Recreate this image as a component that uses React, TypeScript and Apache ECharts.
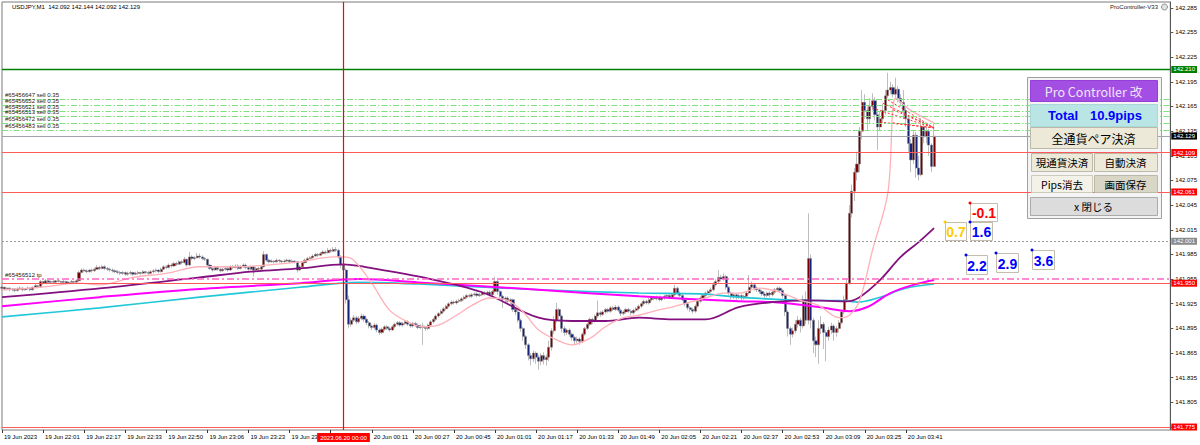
import React, { useEffect, useRef } from "react";
import * as echarts from "echarts";

// Prices are stored in thousandths of a yen above BASE (e.g. 945 -> 141.945, 1129 -> 142.129)
const BASE = 141;

const OPEN = [
  944, 945, 943, 944, 942, 943, 941, 943, 944, 942,
  943, 944, 942, 945, 947, 946, 952, 950, 953, 951,
  952, 951, 953, 952, 951, 952, 950, 951, 952, 951,
  953, 963, 966, 965, 964, 966, 965, 967, 969, 968,
  970, 968, 967, 966, 965, 964, 963, 962, 963, 961,
  962, 963, 961, 962, 963, 962, 964, 963, 962, 964,
  965, 966, 964, 967, 970, 969, 972, 971, 974, 973,
  976, 975, 979, 972, 982, 980, 981, 983, 982, 980,
  979, 972, 968, 966, 969, 967, 965, 967, 968, 966,
  970, 969, 971, 968, 970, 972, 969, 967, 970, 966,
  968, 967, 970, 985, 978, 976, 977, 976, 978, 977,
  976, 977, 978, 976, 977, 976, 966, 970, 975, 978,
  980, 981, 983, 985, 984, 986, 988, 987, 990, 989,
  991, 990, 982, 972, 966, 930, 900, 905, 908, 903,
  907, 910, 906, 902, 898, 896, 899, 893, 890, 894,
  897, 895, 893, 897, 900, 902, 899, 901, 903, 900,
  898, 901, 899, 896, 898, 896, 895, 899, 903, 906,
  910, 913, 916, 919, 922, 925, 927, 926, 928, 929,
  931, 933, 935, 934, 936, 937, 935, 936, 938, 937,
  939, 936, 940, 952, 940, 934, 930, 932, 928, 930,
  918, 915, 905, 895, 885, 875, 862, 858, 865, 860,
  855, 862, 857, 860, 872, 892, 905, 918, 910, 895,
  890, 893, 888, 884, 880, 882, 879, 888, 895, 900,
  906, 904, 910, 914, 912, 915, 918, 916, 920, 918,
  921, 917, 913, 915, 918, 916, 914, 917, 919, 922,
  925, 928, 926, 930, 932, 931, 933, 930, 932, 934,
  935, 933, 936, 944, 938, 935, 930, 925, 920, 918,
  916, 922, 928, 932, 935, 938, 940, 942, 948, 952,
  957, 955, 958, 945, 938, 934, 936, 933, 935, 932,
  934, 938, 945, 948, 944, 942, 940, 937, 935, 938,
  936, 939, 942, 944, 941, 935, 915, 895, 888, 892,
  900, 905, 898, 930, 905, 980, 905, 880, 875, 895,
  900, 890, 885, 893, 898, 890, 895, 902, 915, 930,
  950, 1035, 1062, 1085, 1095, 1135, 1170, 1160, 1150, 1165,
  1172, 1155, 1140, 1150, 1160, 1178, 1185, 1188, 1180, 1186,
  1175, 1170, 1160, 1150, 1120, 1100, 1130, 1090, 1082, 1140,
  1128, 1135, 1118, 1092,
];

const HIGH = [
  947, 946, 945, 945, 944, 944, 945, 946, 945, 944,
  946, 945, 946, 949, 948, 954, 953, 955, 954, 953,
  954, 954, 955, 953, 954, 953, 952, 954, 953, 955,
  965, 968, 968, 967, 967, 968, 969, 972, 971, 972,
  972, 970, 969, 968, 967, 966, 965, 965, 964, 964,
  965, 964, 964, 965, 964, 966, 965, 965, 966, 967,
  968, 967, 969, 972, 972, 974, 974, 976, 976, 978,
  978, 982, 980, 988, 984, 983, 987, 986, 984, 982,
  980, 973, 970, 971, 971, 969, 969, 970, 970, 972,
  972, 973, 973, 972, 974, 974, 971, 972, 971, 970,
  970, 972, 989, 986, 980, 979, 978, 980, 979, 978,
  979, 980, 979, 979, 978, 977, 972, 977, 980, 982,
  983, 985, 987, 987, 988, 990, 990, 993, 992, 994,
  994, 992, 984, 976, 968, 935, 908, 911, 910, 910,
  913, 912, 908, 904, 900, 902, 901, 895, 896, 899,
  899, 897, 899, 902, 904, 904, 903, 905, 905, 902,
  903, 903, 901, 900, 902, 898, 901, 905, 908, 912,
  915, 918, 921, 924, 927, 929, 929, 930, 931, 933,
  935, 937, 937, 938, 939, 939, 938, 940, 940, 941,
  941, 942, 958, 954, 942, 936, 934, 934, 932, 931,
  920, 917, 907, 897, 887, 877, 865, 868, 867, 863,
  865, 866, 863, 880, 895, 910, 926, 920, 912, 898,
  895, 895, 890, 886, 885, 884, 890, 897, 902, 908,
  908, 912, 929, 916, 917, 920, 920, 922, 922, 923,
  923, 919, 917, 920, 920, 918, 919, 921, 924, 927,
  930, 930, 932, 934, 934, 935, 935, 934, 936, 937,
  937, 938, 948, 946, 940, 937, 932, 927, 922, 920,
  924, 930, 934, 937, 940, 942, 945, 951, 955, 966,
  960, 962, 960, 947, 940, 938, 938, 937, 937, 936,
  940, 960, 952, 950, 946, 944, 942, 939, 940, 940,
  941, 944, 946, 946, 943, 938, 917, 897, 896, 905,
  910, 908, 935, 940, 1035, 985, 908, 885, 905, 910,
  903, 893, 897, 902, 900, 898, 905, 918, 935, 955,
  1045, 1070, 1090, 1110, 1140, 1185, 1180, 1165, 1175, 1181,
  1176, 1160, 1158, 1168, 1185, 1206, 1195, 1192, 1200, 1190,
  1180, 1185, 1165, 1155, 1125, 1135, 1134, 1105, 1151, 1145,
  1140, 1138, 1120, 1144,
];

const LOW = [
  942, 941, 941, 940, 940, 939, 940, 942, 940, 941,
  942, 940, 941, 944, 944, 945, 948, 949, 949, 950,
  949, 950, 951, 949, 950, 948, 949, 950, 949, 950,
  952, 962, 963, 962, 963, 963, 964, 966, 966, 967,
  966, 965, 964, 963, 962, 961, 960, 960, 959, 959,
  960, 959, 960, 960, 960, 961, 961, 960, 961, 962,
  963, 962, 963, 966, 967, 968, 969, 970, 971, 972,
  973, 974, 970, 971, 978, 978, 980, 980, 978, 977,
  969, 966, 964, 965, 965, 963, 964, 965, 964, 965,
  967, 968, 966, 967, 969, 967, 965, 966, 958, 964,
  965, 966, 969, 976, 974, 975, 974, 975, 975, 974,
  975, 976, 974, 975, 974, 963, 965, 969, 974, 977,
  979, 980, 982, 982, 983, 985, 985, 986, 987, 988,
  988, 980, 968, 964, 925, 895, 897, 903, 900, 901,
  905, 903, 899, 895, 893, 894, 890, 887, 888, 892,
  893, 891, 892, 895, 898, 897, 897, 899, 898, 896,
  896, 897, 894, 894, 875, 892, 893, 897, 901, 904,
  908, 911, 914, 917, 920, 923, 924, 924, 926, 927,
  929, 931, 932, 932, 934, 933, 933, 934, 935, 935,
  934, 934, 938, 936, 931, 920, 927, 925, 925, 915,
  911, 902, 891, 880, 870, 856, 850, 854, 852, 845,
  850, 851, 850, 855, 868, 888, 902, 906, 890, 886,
  887, 885, 880, 876, 877, 875, 877, 886, 893, 898,
  900, 902, 908, 909, 910, 913, 914, 914, 916, 916,
  915, 910, 911, 913, 914, 911, 912, 915, 917, 920,
  923, 924, 924, 928, 929, 929, 928, 928, 930, 932,
  931, 931, 934, 936, 933, 928, 922, 917, 915, 913,
  914, 920, 926, 930, 933, 936, 938, 940, 946, 950,
  952, 953, 942, 935, 930, 931, 930, 931, 929, 930,
  932, 936, 943, 941, 939, 937, 934, 932, 933, 933,
  934, 937, 940, 938, 932, 910, 885, 875, 884, 889,
  896, 890, 895, 900, 900, 895, 865, 860, 852, 888,
  870, 855, 880, 888, 880, 885, 890, 900, 912, 928,
  948, 1030, 1050, 1075, 1085, 1125, 1150, 1135, 1145, 1160,
  1148, 1112, 1135, 1145, 1155, 1175, 1180, 1176, 1175, 1170,
  1165, 1150, 1140, 1110, 1085, 1095, 1078, 1075, 1080, 1120,
  1120, 1105, 1085, 1092,
];

const CLOSE = [
  945, 943, 944, 942, 943, 941, 943, 944, 942, 943,
  944, 942, 945, 947, 946, 952, 950, 953, 951, 952,
  951, 953, 952, 951, 952, 950, 951, 952, 951, 953,
  963, 966, 965, 964, 966, 965, 967, 969, 968, 970,
  968, 967, 966, 965, 964, 963, 962, 963, 961, 962,
  963, 961, 962, 963, 962, 964, 963, 962, 964, 965,
  966, 964, 967, 970, 969, 972, 971, 974, 973, 976,
  975, 979, 972, 982, 980, 981, 983, 982, 980, 979,
  972, 968, 966, 969, 967, 965, 967, 968, 966, 970,
  969, 971, 968, 970, 972, 969, 967, 970, 966, 968,
  967, 970, 985, 978, 976, 977, 976, 978, 977, 976,
  977, 978, 976, 977, 976, 966, 970, 975, 978, 980,
  981, 983, 985, 984, 986, 988, 987, 990, 989, 991,
  990, 982, 972, 966, 930, 900, 905, 908, 903, 907,
  910, 906, 902, 898, 896, 899, 893, 890, 894, 897,
  895, 893, 897, 900, 902, 899, 901, 903, 900, 898,
  901, 899, 896, 898, 896, 895, 899, 903, 906, 910,
  913, 916, 919, 922, 925, 927, 926, 928, 929, 931,
  933, 935, 934, 936, 937, 935, 936, 938, 937, 939,
  936, 940, 952, 940, 934, 930, 932, 928, 930, 918,
  915, 905, 895, 885, 875, 862, 858, 865, 860, 855,
  862, 857, 860, 872, 892, 905, 918, 910, 895, 890,
  893, 888, 884, 880, 882, 879, 888, 895, 900, 906,
  904, 910, 914, 912, 915, 918, 916, 920, 918, 921,
  917, 913, 915, 918, 916, 914, 917, 919, 922, 925,
  928, 926, 930, 932, 931, 933, 930, 932, 934, 935,
  933, 936, 944, 938, 935, 930, 925, 920, 918, 916,
  922, 928, 932, 935, 938, 940, 942, 948, 952, 957,
  955, 958, 945, 938, 934, 936, 933, 935, 932, 934,
  938, 945, 948, 944, 942, 940, 937, 935, 938, 936,
  939, 942, 944, 941, 935, 915, 895, 888, 892, 900,
  905, 898, 930, 905, 980, 905, 880, 875, 895, 900,
  890, 885, 893, 898, 890, 895, 902, 915, 930, 950,
  1035, 1062, 1085, 1095, 1135, 1170, 1160, 1150, 1165, 1172,
  1155, 1140, 1150, 1160, 1178, 1185, 1188, 1180, 1186, 1175,
  1170, 1160, 1150, 1120, 1100, 1130, 1090, 1082, 1140, 1128,
  1135, 1118, 1092, 1129,
];

// Moving averages as [bar index, thousandths above BASE]
const MA_PINK = [
  [0, 942], [15, 945], [30, 950], [38, 948], [51, 957], [64, 962], [77, 970], [90, 970],
  [103, 972], [116, 976], [129, 982], [133, 982], [137, 978], [144, 950], [151, 917],
  [158, 903], [164, 897], [170, 899], [177, 911], [183, 923], [190, 932], [197, 929],
  [203, 915], [209, 893], [216, 881], [222, 875], [229, 883], [235, 897], [242, 908],
  [248, 911], [255, 917], [261, 921], [268, 927], [274, 932], [281, 938], [287, 938],
  [295, 944], [303, 939], [311, 929], [318, 923], [326, 908], [330, 911], [334, 929],
  [339, 990], [345, 1060], [348, 1175], [352, 1165], [354, 1160], [363, 1145],
];
const MA_PURPLE = [
  [0, 933], [39, 944], [77, 957], [97, 964], [116, 968], [133, 973], [139, 971],
  [164, 957], [187, 939], [209, 908], [222, 904], [235, 904], [248, 908], [261, 906],
  [274, 906], [287, 921], [300, 927], [314, 929], [329, 928], [334, 933], [342, 954],
  [350, 982], [357, 1000], [363, 1017],
];
const MA_MAGENTA = [
  [0, 922], [38, 933], [77, 943], [116, 950], [139, 955], [162, 951], [209, 942],
  [248, 934], [287, 928], [300, 927], [313, 923], [320, 920], [330, 916], [337, 921],
  [346, 938], [355, 948], [363, 954],
];
const MA_CYAN = [
  [0, 909], [38, 920], [77, 933], [116, 945], [139, 951], [162, 949], [209, 942],
  [248, 938], [272, 937], [287, 933], [314, 929], [326, 929], [333, 927], [342, 933],
  [352, 944], [363, 949],
];

// open-order trail lines (start bar, start price) to the last bar
const FAN_START_BAR = [339, 343, 345, 347, 342, 347];
const FAN_START_PRICE = [1163, 1169, 1173, 1161, 1146, 1145];
const FAN_END_BAR = 363;
const FAN_END_PRICE = 1139;

const TIME_LABELS = [
  "19 Jun 2023", "19 Jun 22:01", "19 Jun 22:17", "19 Jun 22:33", "19 Jun 22:50",
  "19 Jun 23:06", "19 Jun 23:23", "19 Jun 23:39", "19 Jun 23:55", "20 Jun 00:11",
  "20 Jun 00:27", "20 Jun 00:45", "20 Jun 01:01", "20 Jun 01:17", "20 Jun 01:33",
  "20 Jun 01:49", "20 Jun 02:05", "20 Jun 02:21", "20 Jun 02:37", "20 Jun 02:53",
  "20 Jun 03:09", "20 Jun 03:25", "20 Jun 03:41",
];
const Y_TICKS = [
  141.775, 141.805, 141.835, 141.865, 141.895, 141.925, 141.955, 141.985, 142.015,
  142.045, 142.075, 142.105, 142.135, 142.165, 142.195, 142.225, 142.255, 142.285,
];

const HEADER = "USDJPY,M1  142.092 142.144 142.092 142.129";
const EA_NAME = "ProController-V33";
const TP_GREEN = 142.21;
const ORDER_LEVELS = [142.174, 142.167, 142.159, 142.153, 142.145, 142.136];
const ORDER_NAMES = [
  "#65456647 sell 0.35", "#65456652 sell 0.35", "#65456621 sell 0.35",
  "#65456513 sell 0.35", "#65456472 sell 0.35", "#65456483 sell 0.35",
];
const BID = 142.129;
const RED_LEVELS = [142.109, 142.061, 141.95, 141.775];
const GRAY_LEVEL = 142.001;
const TP_PINK = 141.955;
const TP_PINK_NAME = "#65456512 tp";
const VLINE_BAR = 133;
const VLINE_LABEL = "2023.06.20 00:00";

const PROFIT_TEXT = ["-0.1", "0.7", "1.6", "2.2", "2.9", "3.6"];
const PROFIT_COLOR = ["#ff0000", "#ffcc00", "#0000ff", "#0000ff", "#0000ff", "#0000ff"];

const PANEL_TITLE = "Pro Controller 改";
const PANEL_TOTAL = ["Total", "10.9pips"];
const PANEL_BUTTONS = ["全通貨ペア決済", "現通貨決済", "自動決済", "Pips消去", "画面保存", "x 閉じる"];

const CATEGORY_COUNT = 456;
const Y_MIN = 141.7714;
const Y_MAX = 142.2921;
const FONT = '"Liberation Sans", Arial, sans-serif';
const JP = '"Noto Sans CJK JP", sans-serif';

const toP = (v: number) => Math.round((BASE + v / 1000) * 1000) / 1000;

function txt(x: number, y: number, text: string, font: string, fill: string, align = "center", z = 100) {
  return {
    type: "text",
    x,
    y,
    z,
    silent: true,
    style: {
      text,
      font,
      fill,
      align,
      textAlign: align,
      verticalAlign: "middle",
      textVerticalAlign: "middle",
    },
  };
}

function box(x: number, y: number, w: number, h: number, fill: string, stroke: string, z = 100) {
  return {
    type: "rect",
    z,
    silent: true,
    shape: { x: x + 0.5, y: y + 0.5, width: w, height: h },
    style: { fill, stroke, lineWidth: 1 },
  };
}

function buildOption() {
  const categories = Array.from({ length: CATEGORY_COUNT }, (_, i) => String(i));
  const candles = OPEN.map((o, i) => [toP(o), toP(CLOSE[i]), toP(LOW[i]), toP(HIGH[i])]);

  const axisBox = (v: number, bg: string) => ({
    show: true,
    position: "end",
    distance: 1,
    formatter: v.toFixed(3),
    backgroundColor: bg,
    color: "#fff",
    fontSize: 6,
    lineHeight: 6,
    fontFamily: FONT,
    padding: [1, 2, 0, 2],
  });
  const leftLabel = (t: string) => ({
    show: true,
    position: "insideStartTop",
    distance: [3, 1],
    formatter: t,
    color: "#222",
    fontSize: 6,
    fontFamily: FONT,
  });

  const markData: any[] = [];
  markData.push({
    yAxis: TP_GREEN,
    lineStyle: { color: "#008000", width: 1.3, type: "solid" },
    label: axisBox(TP_GREEN, "#008000"),
  });
  ORDER_LEVELS.forEach((v, i) =>
    markData.push({
      yAxis: v,
      lineStyle: { color: "#7fe07f", width: 1.2, type: [6, 2, 1.5, 2] },
      label: leftLabel(ORDER_NAMES[i]),
    })
  );
  markData.push({
    yAxis: BID,
    lineStyle: { color: "#a0a4aa", width: 1, type: "solid" },
    label: axisBox(BID, "#000000"),
  });
  markData.push({
    yAxis: GRAY_LEVEL,
    lineStyle: { color: "#9a9a9a", width: 1, type: [2, 2] },
    label: axisBox(GRAY_LEVEL, "#8a8a8a"),
  });
  markData.push({
    yAxis: TP_PINK,
    lineStyle: { color: "#ff66c4", width: 1.6, type: [7, 3, 2, 3] },
    label: leftLabel(TP_PINK_NAME),
  });
  RED_LEVELS.forEach((v) =>
    markData.push({
      yAxis: v,
      lineStyle: { color: "#ff5a5a", width: 1.2, type: "solid" },
      label: axisBox(v, "#ff0000"),
    })
  );
  markData.push({
    xAxis: VLINE_BAR,
    lineStyle: { color: "rgba(255,0,0,0)", width: 1, type: "solid" },
    label: {
      show: true,
      position: "start",
      distance: 3,
      formatter: VLINE_LABEL,
      backgroundColor: "#ff0000",
      color: "#ffffff",
      fontSize: 6,
      lineHeight: 6,
      fontFamily: FONT,
      padding: [2, 3, 1, 3],
    },
  });

  const maSeries = (data: number[][], color: string, width: number) => ({
    type: "line",
    data: data.map(([i, v]) => [i, toP(v)]),
    showSymbol: false,
    symbol: "none",
    smooth: 0.35,
    silent: true,
    lineStyle: { color, width },
    itemStyle: { color },
    z: 3,
  });

  const fanSeries = FAN_START_BAR.map((b, k) => ({
    type: "line",
    data: [
      [b, toP(FAN_START_PRICE[k])],
      [FAN_END_BAR, toP(FAN_END_PRICE)],
    ],
    showSymbol: false,
    symbol: "none",
    silent: true,
    lineStyle: { color: "#ff3030", width: 1, type: [2, 2] },
    itemStyle: { color: "#ff3030" },
    z: 4,
  }));

  const vlineSeries = {
    type: "line",
    data: [
      [VLINE_BAR, Y_MIN],
      [VLINE_BAR, Y_MAX],
    ],
    showSymbol: false,
    symbol: "none",
    silent: true,
    lineStyle: { color: "#ff0000", width: 1.2 },
    itemStyle: { color: "#ff0000" },
    z: 5,
  };

  const showIdx = (idx: number) => idx % 16 === 0 && idx <= 352;

  // graphic overlay: header, panel, profit boxes
  const graphics: any[] = [];
  graphics.push(txt(12, 6.5, HEADER, `6px ${FONT}`, "#000", "left"));
  graphics.push(txt(1158, 7, EA_NAME, `6px ${FONT}`, "#222", "right"));
  graphics.push({
    type: "circle",
    z: 100,
    silent: true,
    shape: { cx: 1164.5, cy: 7, r: 3 },
    style: { fill: "#e4e4e4", stroke: "#777", lineWidth: 0.8 },
  });

  // panel
  graphics.push(box(1027, 77, 134, 141, "#f4f4f4", "#a0a0a0", 1));
  graphics.push(box(1030, 80, 127, 21, "#a44fe4", "#9440d8"));
  graphics.push(txt(1093.5, 91, PANEL_TITLE, `12.5px ${JP}`, "#efe6fb"));
  graphics.push(box(1030, 104, 127, 22, "#b9e5e4", "#a8d8d8"));
  graphics.push(txt(1048, 115.5, PANEL_TOTAL[0], `bold 13px ${FONT}`, "#0000ff", "left"));
  graphics.push(txt(1090, 115.5, PANEL_TOTAL[1], `bold 13px ${FONT}`, "#0000ff", "left"));
  graphics.push(box(1030, 127, 127, 21, "#ece9d8", "#bdb9a8"));
  graphics.push(txt(1093.5, 138, PANEL_BUTTONS[0], `12px ${JP}`, "#000"));
  graphics.push(box(1031, 153, 61, 18, "#ece9d8", "#bdb9a8"));
  graphics.push(txt(1062, 162, PANEL_BUTTONS[1], `10.5px ${JP}`, "#000"));
  graphics.push(box(1094, 153, 63, 18, "#ece9d8", "#bdb9a8"));
  graphics.push(txt(1125.5, 162, PANEL_BUTTONS[2], `10.5px ${JP}`, "#000"));
  graphics.push(box(1031, 175, 61, 17, "#f3f1e8", "#cfcbbb"));
  graphics.push(txt(1062, 184, PANEL_BUTTONS[3], `10.5px ${JP}`, "#000"));
  graphics.push(box(1094, 175, 63, 17, "#d9d6c5", "#bdb9a8"));
  graphics.push(txt(1125.5, 184, PANEL_BUTTONS[4], `10.5px ${JP}`, "#000"));
  graphics.push(box(1030, 197, 127, 18, "#dcdcdc", "#ababab"));
  graphics.push(txt(1093.5, 206, PANEL_BUTTONS[5], `10.5px ${JP}`, "#000"));

  // profit boxes
  const PROFIT_POS = [
    [970, 203, 27, 18],
    [945, 222, 21, 18],
    [970, 222, 22, 18],
    [966, 255, 21, 19],
    [996, 253, 22, 19],
    [1032, 250, 22, 19],
  ];
  PROFIT_TEXT.forEach((t, k) => {
    const [x, y, w, h] = PROFIT_POS[k];
    graphics.push(box(x, y, w, h, "#ffffff", "#c4bcac"));
    graphics.push(txt(x + w / 2 + 0.5, y + h / 2 + 1, t, `bold 14px ${FONT}`, PROFIT_COLOR[k]));
    graphics.push({
      type: "circle",
      z: 101,
      silent: true,
      shape: { cx: x, cy: y, r: 1.5 },
      style: { fill: PROFIT_COLOR[k] },
    });
  });

  return {
    animation: false,
    backgroundColor: "#ffffff",
    textStyle: { fontFamily: FONT },
    grid: {
      left: 2,
      right: 29,
      top: 2,
      bottom: 15,
      show: true,
      borderColor: "#7a7a7a",
      borderWidth: 1,
      backgroundColor: "#ffffff",
    },
    xAxis: {
      type: "category",
      data: categories,
      boundaryGap: false,
      axisLine: { show: false },
      axisTick: {
        show: true,
        interval: (idx: number) => showIdx(idx),
        length: 3,
        lineStyle: { color: "#333" },
      },
      axisLabel: {
        show: true,
        interval: (idx: number) => showIdx(idx),
        formatter: (_v: string, idx: number) => TIME_LABELS[Math.round(idx / 16)] ?? "",
        fontSize: 6,
        color: "#000",
        fontFamily: FONT,
        align: "left",
        margin: 4,
        padding: [0, 0, 0, 2],
      },
      splitLine: { show: false },
    },
    yAxis: {
      type: "value",
      position: "right",
      min: Y_MIN,
      max: Y_MAX,
      scale: true,
      splitLine: { show: false },
      axisLine: { show: true, lineStyle: { color: "#555" } },
      axisTick: { show: true, length: 3, customValues: Y_TICKS, lineStyle: { color: "#555" } },
      axisLabel: {
        customValues: Y_TICKS,
        formatter: (v: number) => v.toFixed(3),
        fontSize: 6,
        color: "#000",
        fontFamily: FONT,
        margin: 5,
      },
    },
    series: [
      {
        type: "candlestick",
        data: candles,
        barWidth: 2.6,
        silent: true,
        z: 2,
        itemStyle: {
          color: "#7a0000",
          color0: "#14237a",
          borderColor: "#7d7d7d",
          borderColor0: "#7d7d7d",
          borderColorDoji: "#22dd22",
          borderWidth: 0.5,
        },
        markLine: {
          symbol: ["none", "none"],
          silent: true,
          animation: false,
          precision: 3,
          data: markData,
        },
      },
      maSeries(MA_CYAN, "#22c8d8", 1.6),
      maSeries(MA_MAGENTA, "#ff00ff", 2),
      maSeries(MA_PURPLE, "#82107f", 1.8),
      maSeries(MA_PINK, "#ffb0b8", 1.3),
      ...fanSeries,
      vlineSeries,
    ],
    graphic: { elements: graphics },
  };
}

export default function App() {
  const ref = useRef<HTMLDivElement>(null);
  useEffect(() => {
    document.body.style.margin = "0";
    const chart = echarts.init(ref.current as HTMLDivElement, null, { renderer: "svg" });
    chart.setOption(buildOption() as any);
    return () => chart.dispose();
  }, []);
  return <div ref={ref} style={{ width: 1200, height: 445 }} />;
}
